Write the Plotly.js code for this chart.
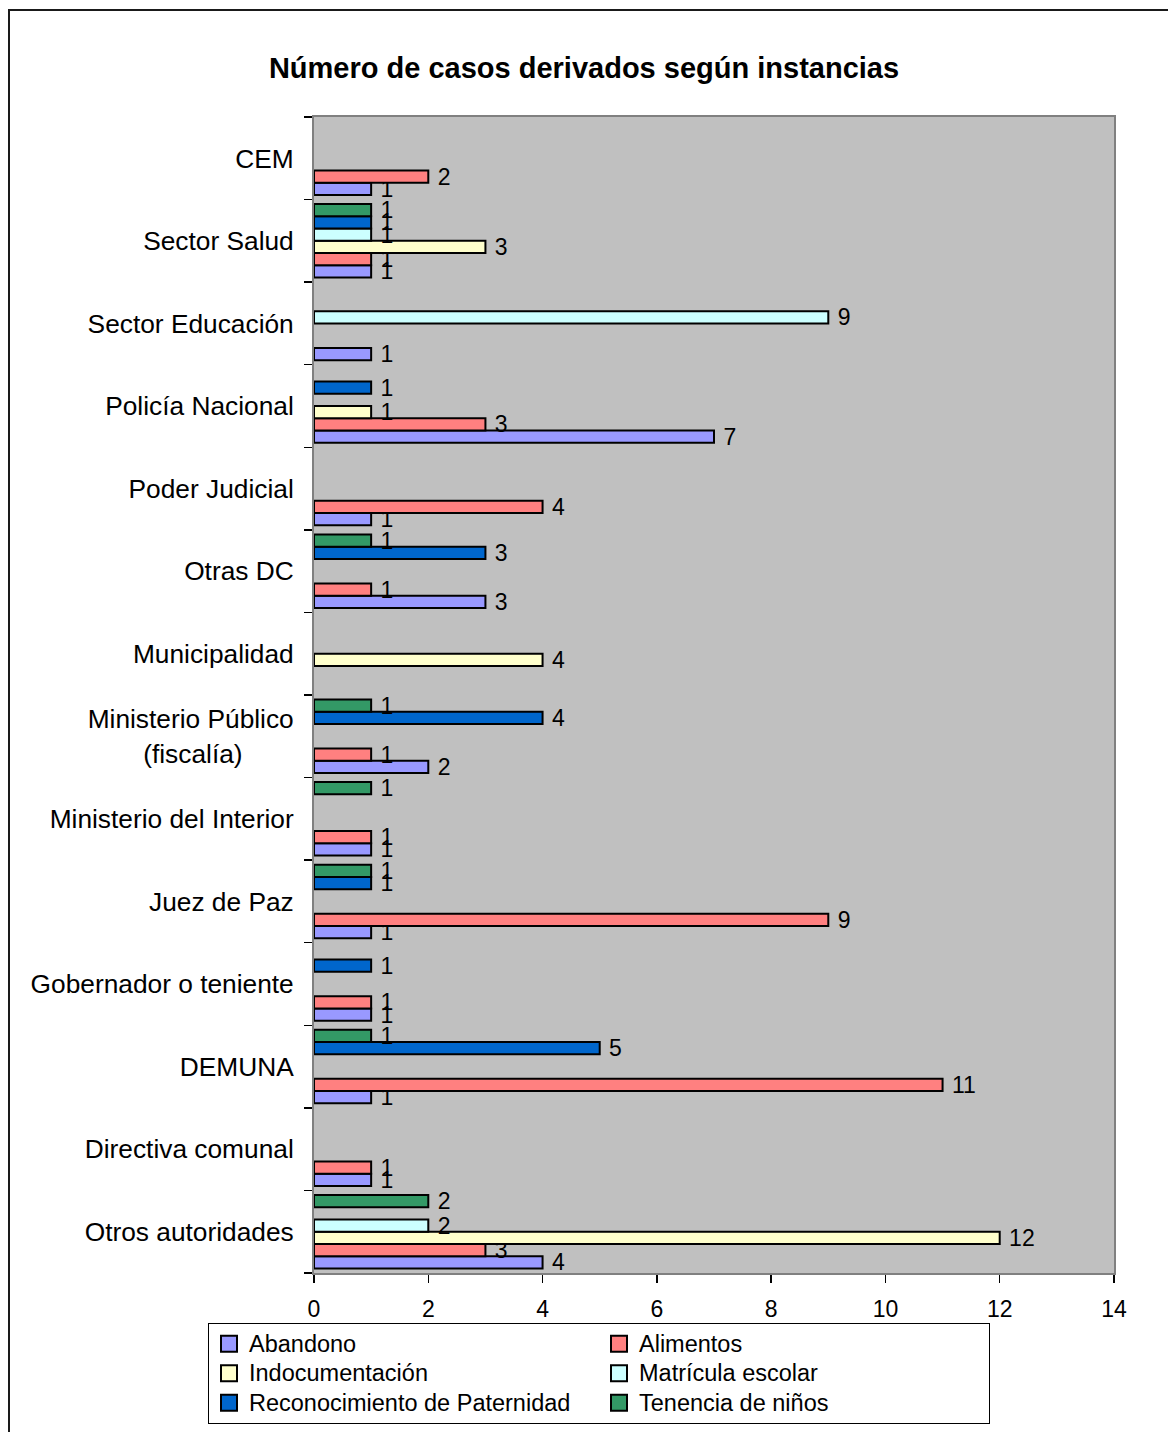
<!DOCTYPE html>
<html>
<head>
<meta charset="utf-8">
<script src="https://cdn.plot.ly/plotly-3.0.1.min.js"></script>
<style>
  html, body { margin: 0; padding: 0; width: 1168px; height: 1432px; overflow: hidden; background: #fff; }
  #frame { position: absolute; left: 8px; top: 9px; width: 2000px; height: 2000px;
           border-left: 2px solid #1a1a1a; border-top: 2px solid #1a1a1a; pointer-events: none; }
  #chart { position: absolute; left: 0; top: 0; width: 1168px; height: 1432px; }
</style>
</head>
<body>
<div id="chart"></div>
<div id="frame"></div>
<script>
// Categories, bottom to top
const categories = [
  "Otros autoridades",
  "Directiva comunal",
  "DEMUNA",
  "Gobernador o teniente",
  "Juez de Paz",
  "Ministerio del Interior",
  "Ministerio Público<br>(fiscalía)\u00a0\u00a0\u00a0\u00a0\u00a0\u00a0\u00a0",
  "Municipalidad",
  "Otras DC",
  "Poder Judicial",
  "Policía Nacional",
  "Sector Educación",
  "Sector Salud",
  "CEM"
];

const abandono        = [4, 1, 1, 1, 1, 1, 2, null, 3, 1, 7, 1, 1, 1];
const alimentos       = [3, 1, 11, 1, 9, 1, 1, null, 1, 4, 3, null, 1, 2];
const indocumentacion = [12, null, null, null, null, null, null, 4, null, null, 1, null, 3, null];
const matricula       = [2, null, null, null, null, null, null, null, null, null, null, 9, 1, null];
const reconocimiento  = [null, null, 5, 1, 1, null, 4, null, 3, null, 1, null, 1, null];
const tenencia        = [2, null, 1, null, 1, 1, 1, null, 1, null, null, null, 1, null];

const seriesNames  = ["Abandono", "Alimentos", "Indocumentación", "Matrícula escolar", "Reconocimiento de Paternidad", "Tenencia de niños"];
const seriesValues = [abandono, alimentos, indocumentacion, matricula, reconocimiento, tenencia];
const seriesColors = ["#9999FF", "#FF8080", "#FFFFCC", "#CCFFFF", "#0066CC", "#339966"];

const xTicks = [0, 2, 4, 6, 8, 10, 12, 14];

const FONT = "Liberation Sans, Arial, Helvetica, sans-serif";

const traces = [];
seriesNames.forEach((name, i) => {
  traces.push({
    type: "bar",
    orientation: "h",
    name: name,
    x: seriesValues[i],
    y: categories,
    marker: { color: seriesColors[i], line: { color: "#000", width: 2 } },
    texttemplate: "\u00a0%{x}",
    textposition: "outside",
    constraintext: "none",
    cliponaxis: false,
    textfont: { family: FONT, size: 23, color: "#000" },
    showlegend: false,
    hoverinfo: "x+y+name"
  });
});
// legend entries (square swatches)
seriesNames.forEach((name, i) => {
  traces.push({
    type: "scatter",
    mode: "markers",
    name: '<span style="font-size:23.5px">' + name + '</span>',
    x: [null],
    y: [categories[0]],
    marker: { symbol: "square", size: 16, color: seriesColors[i], line: { color: "#000", width: 2 } },
    showlegend: true,
    hoverinfo: "skip"
  });
});

const layout = {
  width: 1168,
  height: 1432,
  margin: { l: 314, r: 54, t: 117, b: 159, autoexpand: false },
  paper_bgcolor: "#fff",
  plot_bgcolor: "#C0C0C0",
  barmode: "group",
  bargap: 0.11,
  bargroupgap: 0,
  showlegend: true,
  font: { family: FONT, color: "#000" },
  title: {
    text: "Número de casos derivados según instancias",
    font: { family: FONT, size: 29, color: "#000", weight: 700 },
    x: 0.5, xref: "container", xanchor: "center",
    y: 1 - 68 / 1432, yref: "container", yanchor: "middle"
  },
  xaxis: {
    range: [0, 14],
    tickvals: xTicks,
    ticktext: xTicks.map(String),
    ticks: "outside", ticklen: 8, tickwidth: 1.5, tickcolor: "#000",
    showline: true, linecolor: "#808080", linewidth: 2, mirror: true,
    showgrid: false, zeroline: false,
    tickfont: { family: FONT, size: 23, color: "#000" },
    ticklabelstandoff: 6,
    fixedrange: true
  },
  yaxis: {
    type: "category",
    categoryorder: "array",
    categoryarray: categories,
    range: [-0.5, categories.length - 0.5],
    tickson: "boundaries",
    ticks: "outside", ticklen: 8, tickwidth: 1.5, tickcolor: "#000",
    showline: true, linecolor: "#808080", linewidth: 2, mirror: true,
    showgrid: false, zeroline: false,
    tickfont: { family: FONT, size: 26.3, color: "#000" },
    ticklabelstandoff: 13,
    fixedrange: true
  },
  legend: {
    orientation: "h",
    x: (208 - 314) / 800, xanchor: "left",
    y: (1273 - 1323) / 1156, yanchor: "top",
    bgcolor: "#fff",
    bordercolor: "#000",
    borderwidth: 1,
    entrywidth: 345,
    entrywidthmode: "pixels",
    itemwidth: 30,
    traceorder: "normal",
    font: { family: FONT, size: 20.4, color: "#000" },
    valign: "middle"
  }
};

Plotly.newPlot("chart", traces, layout, { displayModeBar: false, staticPlot: true });
</script>
</body>
</html>
